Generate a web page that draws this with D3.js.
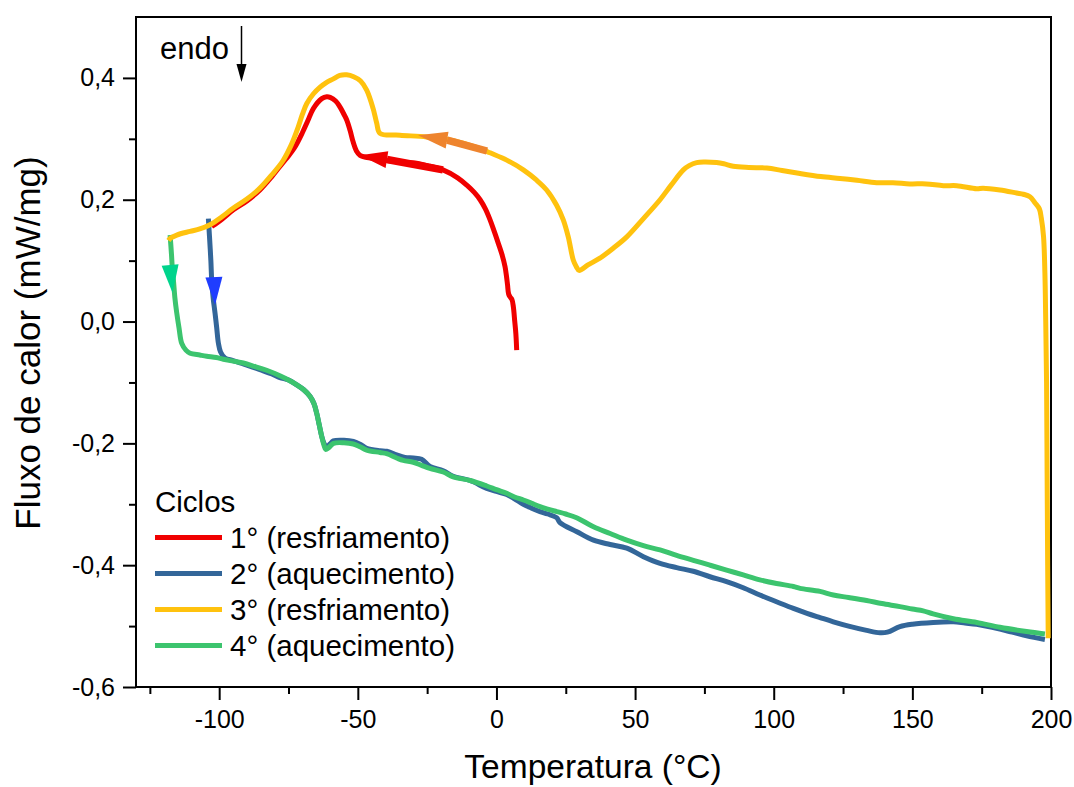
<!DOCTYPE html>
<html><head><meta charset="utf-8">
<script src="https://cdn.jsdelivr.net/npm/d3@7"></script>
<style>
html,body{margin:0;padding:0;background:#fff;}
svg{display:block;}
text{font-family:"Liberation Sans",Arial,sans-serif;fill:#000;}
</style></head>
<body>
<svg id="c" width="1074" height="787"></svg>
<script>
// ---------- data ----------
const xTicks = [-100, -50, 0, 50, 100, 150, 200];
const xMinor = [-125, -75, -25, 25, 75, 125, 175];
const yTicks = [-0.6, -0.4, -0.2, 0.0, 0.2, 0.4];
const yMinor = [-0.5, -0.3, -0.1, 0.1, 0.3];
const seriesNames = ["1° (resfriamento)", "2° (aquecimento)", "3° (resfriamento)", "4° (aquecimento)"];
const seriesColors = ["#f00000", "#336699", "#ffc20e", "#3cc46e"];

// cycle 1 (cooling) [T, flux]
const cycle1 = [
[7.3,-0.047],[7.0,-0.02],[6.6,0.0],[6.1,0.024],[5.6,0.036],[5.0,0.040],[4.4,0.045],[4.0,0.06],
[3.6,0.075],[3.1,0.09],[2.0,0.11],[0.7,0.128],[-0.8,0.148],[-2.3,0.167],[-4,0.185],[-5.9,0.2],
[-8,0.212],[-10.7,0.224],[-14,0.236],[-19.3,0.249],[-24,0.255],[-28.8,0.260],[-35,0.262],
[-40.9,0.265],[-45,0.268],[-49.2,0.273],[-50.5,0.28],[-51.7,0.295],[-52.8,0.314],[-54,0.331],
[-55.2,0.342],[-56.4,0.352],[-58,0.362],[-60,0.368],[-61.2,0.369],[-63,0.366],[-66,0.35],
[-68,0.33],[-70,0.31],[-72.5,0.288],[-75,0.272],[-77,0.261],[-81,0.238],[-85.3,0.216],[-90,0.198],
[-95,0.183],[-99,0.168],[-102.7,0.156]
];
// cycle 2 (heating)
const cycle2 = [
[-103.9,0.169],[-103.5,0.14],[-103.0,0.1],[-102.7,0.068],[-102.2,0.04],[-101.5,0.014],[-100.9,-0.01],
[-100.3,-0.035],[-99.5,-0.05],[-97.9,-0.06],[-95,-0.064],[-92.5,-0.068],[-89,-0.073],[-85.3,-0.079],
[-81,-0.086],[-78.1,-0.092],[-75,-0.096],[-72,-0.104],[-69.5,-0.112],[-67.2,-0.123],[-65.8,-0.135],
[-64.8,-0.151],[-63.9,-0.17],[-63,-0.189],[-62.2,-0.2],[-61.3,-0.206],[-60,-0.201],[-58.8,-0.196],
[-55,-0.195],[-51.6,-0.197],[-49,-0.202],[-46.8,-0.208],[-42,-0.212],[-39.6,-0.213],[-36,-0.219],
[-33,-0.223],[-30,-0.224],[-27,-0.226],[-24,-0.238],[-19.2,-0.245],[-15.6,-0.254],[-9.5,-0.261],
[-3.5,-0.274],[0,-0.279],[3.7,-0.284],[6.5,-0.291],[9.7,-0.3],[12.5,-0.306],[15.7,-0.312],
[18.5,-0.316],[21.7,-0.322],[22.9,-0.33],[29,-0.345],[35,-0.359],[41,-0.366],[47,-0.372],
[53,-0.386],[59,-0.397],[65,-0.404],[71,-0.41],[77,-0.419],[83,-0.427],[89,-0.437],[95,-0.449],
[101,-0.46],[107.1,-0.471],[112,-0.479],[116.7,-0.486],[121.5,-0.493],[127,-0.5],[133.5,-0.507],
[138.3,-0.511],[141,-0.51],[145.5,-0.501],[150,-0.497],[157.5,-0.494],[164.8,-0.493],[169,-0.495],
[173.2,-0.497],[181.6,-0.505],[186,-0.51],[191.2,-0.516],[197.8,-0.522]
];
// cycle 3 (cooling)
const cycle3 = [
[199.0,-0.52],[198.8,-0.40],[198.6,-0.25],[198.4,-0.10],[198.1,0.0],[197.8,0.08],[197.3,0.14],
[196.5,0.17],[195.8,0.185],[194.2,0.195],[192.4,0.205],[190,0.209],[187.6,0.211],[181.6,0.216],
[175.5,0.219],[173.2,0.218],[166,0.223],[161.2,0.223],[155,0.226],[149.1,0.226],[143,0.228],
[137.1,0.228],[130,0.232],[123.9,0.235],[117,0.238],[109.5,0.243],[103,0.248],[97.5,0.252],
[91,0.253],[85.4,0.255],[82,0.259],[79.4,0.261],[75,0.262],[72.2,0.261],[69.5,0.256],[67.4,0.249],
[63,0.224],[59,0.2],[53,0.169],[47,0.139],[42,0.12],[37.3,0.104],[33,0.093],[29.8,0.084],[28.8,0.09],
[27.7,0.101],[25.9,0.139],[24.1,0.167],[21.7,0.191],[18.1,0.216],[14.5,0.232],[9.7,0.249],[3.7,0.265],
[-2.3,0.277],[-4.8,0.282],[-10,0.29],[-16.8,0.298],[-25.2,0.303],[-34.8,0.306],[-42,0.309],
[-43.2,0.326],[-44.5,0.35],[-46.8,0.38],[-49,0.395],[-51.5,0.402],[-54,0.405],[-56.5,0.404],
[-59,0.398],[-61.5,0.392],[-63.6,0.385],[-66,0.374],[-68.4,0.358],[-70,0.34],[-71.6,0.318],
[-74,0.29],[-77,0.264],[-81,0.241],[-85.3,0.219],[-90,0.201],[-95,0.186],[-99,0.172],[-103.3,0.159],
[-107,0.152],[-110.5,0.148],[-115.3,0.142],[-117.5,0.137],[-118.3,0.133]
];
// cycle 4 (heating)
const cycle4 = [
[-117.7,0.142],[-117.2,0.11],[-116.8,0.08],[-116.5,0.068],[-116,0.04],[-115.3,0.014],[-114.5,-0.01],
[-113.5,-0.036],[-112,-0.047],[-110.5,-0.052],[-107,-0.055],[-104.5,-0.057],[-101,-0.059],
[-98.5,-0.062],[-95,-0.065],[-91.3,-0.068],[-87,-0.074],[-82.9,-0.080],[-78.1,-0.089],[-75,-0.096],
[-72,-0.104],[-69.5,-0.112],[-67.2,-0.123],[-65.8,-0.135],[-64.8,-0.151],[-63.9,-0.17],[-63,-0.189],
[-62.2,-0.203],[-61.6,-0.21],[-60.5,-0.207],[-58.8,-0.2],[-55,-0.199],[-51.6,-0.201],[-49,-0.206],
[-46.8,-0.211],[-42,-0.215],[-39.6,-0.217],[-36,-0.224],[-33.6,-0.228],[-30,-0.231],[-27,-0.236],
[-24,-0.241],[-19.2,-0.247],[-15.6,-0.255],[-9.5,-0.261],[-3.5,-0.27],[0,-0.276],[3.7,-0.282],
[6.5,-0.288],[9.7,-0.293],[12.5,-0.298],[15.7,-0.304],[18.5,-0.308],[21.7,-0.312],[25,-0.316],
[28.9,-0.322],[35,-0.337],[41,-0.348],[47,-0.359],[53,-0.368],[59,-0.375],[65,-0.384],[71,-0.392],
[77,-0.4],[83,-0.408],[89,-0.416],[95,-0.424],[101,-0.43],[107.1,-0.435],[109.5,-0.438],
[116.7,-0.443],[121.5,-0.449],[127,-0.453],[133.5,-0.458],[139,-0.463],[145.5,-0.468],[150,-0.472],
[153.9,-0.475],[157.5,-0.48],[164.8,-0.488],[173.2,-0.494],[181.6,-0.502],[191.2,-0.509],[197.8,-0.513]
];
// direction arrows: tip, base centre, tail end (data coords)
const arrowTips  = [[-49.2,0.273],[-28.3,0.306],[-101.5,0.027],[-116.8,0.047]];
const arrowBases = [[-39.5,0.266],[-17.8,0.298],[-101.9,0.073],[-117.7,0.093]];
const arrowTails = [[-19.3,0.249],[-3.4,0.280],null,null];
const arrowColors = ["#f00000","#ee842e","#1f3dff","#00d48c"];

// ---------- chart ----------
const svg = d3.select("#c");
const x = d3.scaleLinear().domain([-130, 200]).range([136, 1051]);
const y = d3.scaleLinear().domain([-0.6, 0.5]).range([687, 17]);
const fmtY = d => d3.format(".1f")(d).replace("\u2212","-").replace(".",",");

// axes
const gx = svg.append("g").attr("transform","translate(0,687)")
  .call(d3.axisBottom(x).tickValues(xTicks).tickSize(13).tickSizeOuter(0).tickPadding(5).tickFormat(d=>String(d)));
gx.select(".domain").remove();
gx.selectAll(".tick line").attr("stroke","#000").attr("stroke-width",2);
gx.selectAll(".tick text").attr("font-size",25).attr("dy","0.9em");
svg.append("g").attr("transform","translate(0,687)")
  .call(d3.axisBottom(x).tickValues(xMinor).tickSize(7).tickSizeOuter(0).tickFormat(""))
  .call(g=>{g.select(".domain").remove();g.selectAll(".tick line").attr("stroke","#000").attr("stroke-width",2);});

const gy = svg.append("g").attr("transform","translate(136,0)")
  .call(d3.axisLeft(y).tickValues(yTicks).tickSize(13).tickSizeOuter(0).tickPadding(8).tickFormat(fmtY));
gy.select(".domain").remove();
gy.selectAll(".tick line").attr("stroke","#000").attr("stroke-width",2);
gy.selectAll(".tick text").attr("font-size",25);
svg.append("g").attr("transform","translate(136,0)")
  .call(d3.axisLeft(y).tickValues(yMinor).tickSize(7).tickSizeOuter(0).tickFormat(""))
  .call(g=>{g.select(".domain").remove();g.selectAll(".tick line").attr("stroke","#000").attr("stroke-width",2);});

// frame
svg.append("rect").attr("x",x(-130)).attr("y",y(0.5)).attr("width",x(200)-x(-130)).attr("height",y(-0.6)-y(0.5))
  .attr("fill","none").attr("stroke","#000").attr("stroke-width",2);

// lines
const line = d3.line().x(d=>x(d[0])).y(d=>y(d[1])).curve(d3.curveCatmullRom.alpha(0.5));
const order = [[cycle1,0],[cycle2,1],[cycle4,3],[cycle3,2]];
order.forEach(([data,i])=>{
  svg.append("path").datum(data).attr("d",line).attr("fill","none")
    .attr("stroke",seriesColors[i]).attr("stroke-width",5).attr("stroke-linejoin","round").attr("stroke-linecap","butt");
});

// arrows
arrowTips.forEach((tp,i)=>{
  const P=[x(tp[0]),y(tp[1])], B=[x(arrowBases[i][0]),y(arrowBases[i][1])];
  const dx=P[0]-B[0], dy=P[1]-B[1], L=Math.hypot(dx,dy);
  const nx=-dy/L, ny=dx/L, hw=8.5;
  if(arrowTails[i]){
    const T=[x(arrowTails[i][0]),y(arrowTails[i][1])];
    svg.append("line").attr("x1",B[0]).attr("y1",B[1]).attr("x2",T[0]).attr("y2",T[1])
      .attr("stroke",arrowColors[i]).attr("stroke-width",7.5);
  }
  svg.append("path").attr("d",`M${P[0]},${P[1]}L${B[0]+nx*hw},${B[1]+ny*hw}L${B[0]-nx*hw},${B[1]-ny*hw}Z`)
    .attr("fill",arrowColors[i]);
});

// endo marker
svg.append("text").attr("x",160).attr("y",59).attr("font-size",31).text("endo");
svg.append("line").attr("x1",241.5).attr("x2",241.5).attr("y1",26).attr("y2",68).attr("stroke","#000").attr("stroke-width",1.5);
svg.append("path").attr("d","M236.5,64L246.5,64L241.5,82Z").attr("fill","#000");

// axis titles
svg.append("text").attr("x",593).attr("y",778).attr("text-anchor","middle").attr("font-size",33.5).text("Temperatura (°C)");
svg.append("text").attr("transform","translate(40,343) rotate(-90)").attr("text-anchor","middle").attr("font-size",35).text("Fluxo de calor (mW/mg)");

// legend
const lg = svg.append("g");
lg.append("text").attr("x",155).attr("y",512).attr("font-size",29.5).text("Ciclos");
seriesNames.forEach((n,i)=>{
  const yy = 537.5 + i*36;
  lg.append("line").attr("x1",155).attr("x2",222).attr("y1",yy).attr("y2",yy).attr("stroke",seriesColors[i]).attr("stroke-width",5);
  lg.append("text").attr("x",230).attr("y",yy+10.5).attr("font-size",29.5).text(n);
});
</script>
</body></html>
